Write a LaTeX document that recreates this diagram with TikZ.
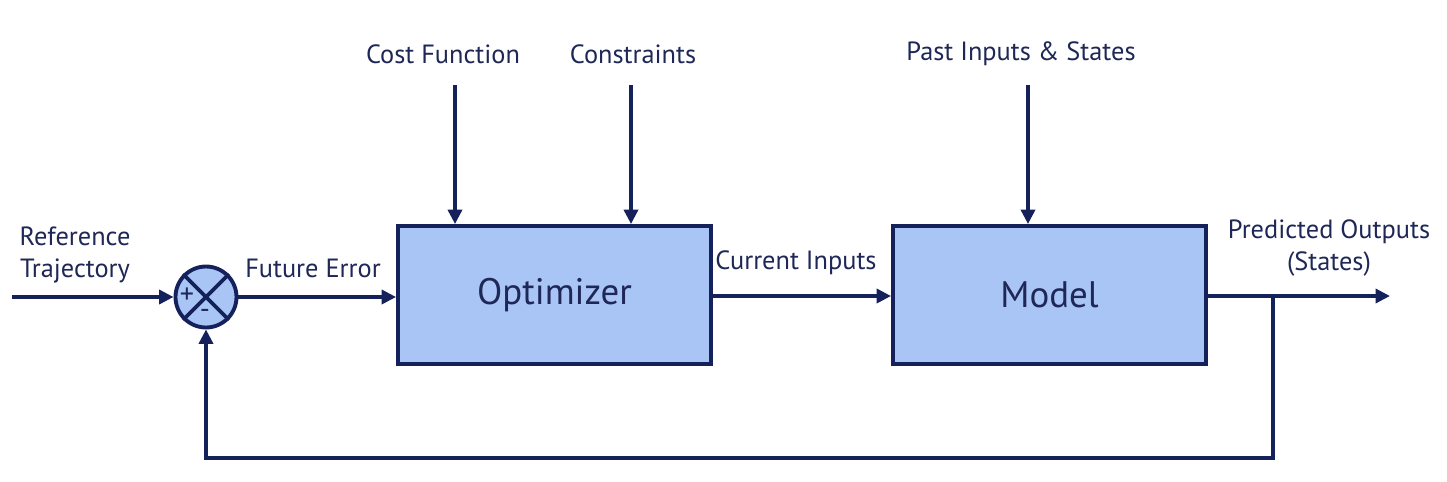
\documentclass[tikz,border=0pt]{standalone}
\usepackage{fontspec}
\setmainfont{PT Sans}
\usetikzlibrary{arrows.meta,calc}
\definecolor{navy}{HTML}{15215A}
\definecolor{boxblue}{HTML}{A9C5F5}
\definecolor{txt}{HTML}{1E2756}
\tikzset{
  blk/.style={draw=navy,fill=boxblue,line width=2.2pt,minimum width=6.26cm,minimum height=2.76cm,font=\fontsize{21}{24}\selectfont,text=txt},
  sumc/.style={circle,draw=navy,fill=boxblue,line width=2.2pt,minimum size=1.22cm,inner sep=0pt},
  lbl/.style={font=\fontsize{15}{18}\selectfont,text=txt,align=center,inner sep=0pt},
  arr/.style={navy,line width=2.8pt,-{Triangle[length=0.29cm,width=0.28cm]}}
}
\begin{document}
\begin{tikzpicture}[x=0.02cm,y=-0.02cm]
\useasboundingbox (0,0) rectangle (1447,481);
\node[blk] (opt) at (554.5,295) {Optimizer};
\node[blk] (mdl) at (1049.5,295) {Model};
\node[sumc] (sum) at (206,297) {};
\draw[navy,line width=2.2pt] (sum.north west)--(sum.south east) (sum.north east)--(sum.south west);
\node[lbl,font=\fontsize{16}{16}\selectfont] (plus) at (187,296) {+};
\node[lbl,font=\fontsize{16}{16}\selectfont] (minus) at (205,314) {-};
% inputs from above
\node[lbl] (cost) at (443,54) {Cost Function};
\node[lbl] (cons) at (633,54) {Constraints};
\node[lbl] (past) at (1021,54) {Past Inputs \& States};
\coordinate (c1) at (455,85);\coordinate (c2) at (631,85);\coordinate (c3) at (1028,85);
\draw[arr] (c1)--(c1|-opt.north);
\draw[arr] (c2)--(c2|-opt.north);
\draw[arr] (c3)--(c3|-mdl.north);
% main path
\node[lbl] (reflbl) at (75,255) {Reference\\Trajectory};
\node[lbl] (errlbl) at (313,268) {Future Error};
\node[lbl] (curlbl) at (796,263) {Current Inputs};
\node[lbl] (outlbl) at (1329,248) {Predicted Outputs\\(States)};
\coordinate (ref) at (12,297);
\coordinate (br) at (1273,296);
\coordinate (out) at (1390,296);
\draw[arr] (ref)--(sum.west);
\draw[arr] (sum.east)--(sum.east-|opt.west);
\draw[arr] (opt.east|-br)--(mdl.west|-br);
\draw[arr] (mdl.east|-br)--(out);
\draw[arr] (br)--++(0,162)-|(sum.south);
\end{tikzpicture}
\end{document}
